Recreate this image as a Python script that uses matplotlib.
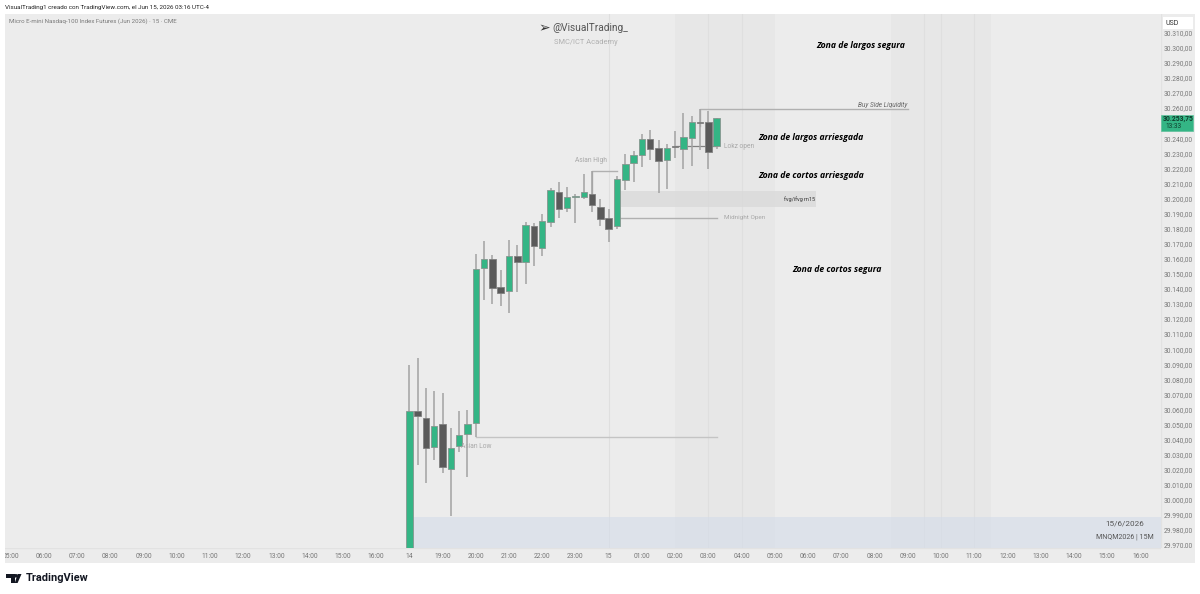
import matplotlib
matplotlib.use("Agg")
import matplotlib.pyplot as plt
from matplotlib.patches import Rectangle, Polygon, Ellipse

plt.rcParams['font.family'] = ['Roboto', 'DejaVu Sans']

# velas de 15 minutos, la primera es la de las 18:00 del dia 14
opens = [29960, 30059.4, 30054.8, 30035.5, 30050.8, 30021.3, 30036.2, 30044.6, 30051.9, 30154.7,
         30160.3, 30142.1, 30139.5, 30162.3, 30158.3, 30182.4, 30167.8, 30184.9, 30205, 30194.3,
         30201.5, 30201.8, 30203.4, 30195.2, 30187.7, 30182.6, 30213.1, 30224.2, 30229.7, 30240.1,
         30234.2, 30226, 30235.3, 30233.7, 30240.6, 30251.6, 30251.2, 30235.7]
highs = [30090, 30094.6, 30074.7, 30073.1, 30071.8, 30048.6, 30059.6, 30060.1, 30163.8, 30172.4,
         30163.4, 30153.2, 30173.1, 30169.8, 30185.2, 30184.2, 30190.4, 30207.6, 30211.4, 30208.3,
         30203.6, 30217.1, 30218.7, 30200.1, 30193.7, 30215.6, 30230.2, 30232.2, 30243.2, 30245.9,
         30239.5, 30236.8, 30245.6, 30257.2, 30255.6, 30259.8, 30258.5, 30254.3]
lows = [29950, 30023.8, 30011.7, 30027.1, 30018.7, 29990, 30032.2, 30016, 30042.6, 30133.3,
        30130.6, 30129.5, 30124.9, 30138.4, 30143.9, 30155.9, 30162.7, 30181.9, 30187.9, 30191.7,
        30184.6, 30200.5, 30191.7, 30182.4, 30171.8, 30180.6, 30206.3, 30211.4, 30221.7, 30226.2,
        30204.1, 30207, 30227.3, 30220, 30222.2, 30232.8, 30220, 30233.5]
closes = [30059.6, 30056, 30035.3, 30049.9, 30022.7, 30034.9, 30043.5, 30051, 30153.9, 30160.3,
          30141.5, 30138, 30162.3, 30158.3, 30183.1, 30169.1, 30185.7, 30206.1, 30193.9, 30201.6,
          30202.1, 30205.2, 30196.5, 30186.8, 30180.4, 30213.4, 30223.7, 30229.3, 30240.1, 30233.5,
          30225.3, 30234, 30234.6, 30241.3, 30251.2, 30250.5, 30231.5, 30253.75]

time_labels = ["05:00", "06:00", "07:00", "08:00", "09:00", "10:00", "11:00", "12:00", "13:00", "14:00",
               "15:00", "16:00", "14", "19:00", "20:00", "21:00", "22:00", "23:00", "15", "01:00",
               "02:00", "03:00", "04:00", "05:00", "06:00", "07:00", "08:00", "09:00", "10:00", "11:00",
               "12:00", "13:00", "14:00", "15:00", "16:00"]
price_ticks = list(range(29970, 30320, 10))
last_price = 30253.75

GREEN = "#34b585"
DARK = "#5a5a5a"
BG = "#ececec"
GRID = "#e2e2e2"
W, H = 1200, 594

fig = plt.figure(figsize=(W / 100, H / 100), dpi=100, facecolor="white")


def px_axes(x0, y0, x1, y1):
    # ejes colocados con pixeles de la imagen (y hacia abajo)
    return fig.add_axes([x0 / W, 1 - y1 / H, (x1 - x0) / W, (y1 - y0) / H])


def px_poly(points):
    return Polygon([[x / W, 1 - y / H] for x, y in points], closed=True, transform=fig.transFigure,
                   color="#131722", lw=0)


ax = px_axes(5, 14, 1160.7, 548)
ax_price = px_axes(1160.7, 14, 1195, 548)
ax_time = px_axes(5, 548, 1160.7, 562.7)
ax_corner = px_axes(1160.7, 548, 1195, 562.7)
for a in (ax, ax_price, ax_time, ax_corner):
    a.set_facecolor(BG)
    a.set_xticks([])
    a.set_yticks([])
    for s in a.spines.values():
        s.set_visible(False)

ax.set_xlim(-48.67, 90.45)
ax.set_ylim(29968.7, 30323.1)
ax_price.set_xlim(0, 1)
ax_price.set_ylim(ax.get_ylim())
ax_time.set_xlim(ax.get_xlim())
ax_time.set_ylim(0, 1)
ax_time.axhline(1, color=GRID, lw=1)
ax_price.axvline(0, color=GRID, lw=1)

# zonas de sesion
for a, b in [(32, 44), (58, 70)]:
    ax.axvspan(a, b, color="#e7e7e7", lw=0, zorder=0)
for v in [24, 36, 40, 62, 64, 68]:
    ax.axvline(v, color="#dfdfdf", lw=0.8, zorder=1)

# caja inferior y fvg (la caja azul es translucida)
ax.add_patch(Rectangle((0.45, 29968.7), 90, 20.8, facecolor="#d4dcea", alpha=0.6, lw=0, zorder=1))
ax.add_patch(Rectangle((25, 30195), 24, 10.6, facecolor="#d8d8d8", alpha=0.7, lw=0, zorder=1))

# niveles
ax.plot([35, 35, 60], [30249, 30259.8, 30259.8], color="#b0b0b0", lw=1, zorder=2)
ax.plot([22, 22, 25], [30196.5, 30218.7, 30218.7], color="#b0b0b0", lw=1, zorder=2)
ax.plot([25, 37], [30187.9, 30187.9], color="#b0b0b0", lw=1, zorder=2)
ax.plot([8, 37], [30042.6, 30042.6], color="#c4c4c4", lw=1, zorder=2)
ax.plot([32, 37], [30235.3, 30235.3], color="#808080", lw=0.9, zorder=2)

# velas
for i, (o, h, l, c) in enumerate(zip(opens, highs, lows, closes)):
    col = GREEN if c >= o else DARK
    ax.plot([i, i], [l, h], color="#a2a2a2", lw=1.1, zorder=3, solid_capstyle="butt")
    ax.add_patch(Rectangle((i - 0.39, min(o, c)), 0.78, max(abs(c - o), 0.6), facecolor=col,
                           edgecolor="#86968f" if c >= o else "#808080", lw=0.6, zorder=4))

# textos
for txt, x, y in [("Zona de largos segura", 861, 46), ("Zona de largos arriesgada", 811, 137),
                  ("Zona de cortos arriesgada", 811, 176), ("Zona de cortos segura", 837, 270)]:
    fig.text(x / W, 1 - y / H, txt, ha="center", va="center", fontsize=6.2, fontweight="bold",
             fontstyle="italic", family=["Open Sans", "DejaVu Sans"], color="black", zorder=10)
for txt, x, y, fs in [("Asian High", 591, 161, 4.8), ("Asian Low", 476, 446, 4.8),
                      ("Midnight Open", 745, 218, 4.6), ("Lokz open", 739, 146, 4.8)]:
    fig.text(x / W, 1 - y / H, txt, ha="center", va="center", fontsize=fs, color="#a8a8a8", zorder=10)
fig.text(882.5 / W, 1 - 104.5 / H, "Buy Side Liquidity", ha="center", va="center", fontsize=4.7,
         fontstyle="italic", color="#666666", zorder=10)
fig.text(800 / W, 1 - 199.5 / H, "fvg/ifvg m15", ha="center", va="center", fontsize=4.0,
         color="#333333", zorder=10)

fig.text(5 / W, 1 - 7 / H, "VisualTrading1 creado con TradingView.com, el Jun 15, 2026 03:16 UTC-4",
         ha="left", va="center", fontsize=4.5, color="#222222")
fig.text(9 / W, 1 - 21.5 / H, "Micro E-mini Nasdaq-100 Index Futures (Jun 2026) \u00b7 15 \u00b7 CME",
         ha="left", va="center", fontsize=4.45, color="#777777", zorder=10)
fig.text(552 / W, 1 - 28 / H, "@VisualTrading_", ha="left", va="center", fontsize=7.3,
         color="#555555", zorder=10)
fig.text(554 / W, 1 - 43 / H, "SMC/ICT Academy", ha="left", va="center", fontsize=5.4,
         color="#b0b0b0", zorder=10)
fig.text(544.5 / W, 1 - 28 / H, "\u27a2", ha="center", va="center", fontsize=10, color="#333333",
         family="DejaVu Sans", zorder=10)
fig.text(1125 / W, 1 - 524 / H, "15/6/2026", ha="center", va="center", fontsize=5.9,
         color="#555555", zorder=10)
fig.text(1124.6 / W, 1 - 536.5 / H, "MNQM2026 | 15M", ha="center", va="center", fontsize=5.1,
         color="#555555", zorder=10)

# eje de tiempo
for i, lab in enumerate(time_labels):
    ax_time.text(-48 + 4 * i, 0.45, lab, ha="center", va="center", fontsize=4.9, color="#777777",
                 clip_on=True)

# eje de precios
for p in price_ticks:
    if p == 30250:
        continue
    ax_price.text(0.51, p, f"{p:,}".replace(",", ".") + ",00", ha="center", va="center", fontsize=4.8,
                  color="#777777", clip_on=False)
ax_price.add_patch(Rectangle((0.07, 30313), 0.86, 8, facecolor="white", lw=0, zorder=5))
ax_price.text(0.15, 30317, "USD", ha="left", va="center", fontsize=5, color="#333333", zorder=6)
ax_price.add_patch(Rectangle((0, last_price - 8.15), 0.95, 10.4, facecolor=GREEN, edgecolor="#5fbf9a", lw=0.5,
                             zorder=5))
ax_price.text(0.5, last_price - 0.1, "30.253,75", ha="center", va="center", fontsize=4.9,
              fontweight="bold", color="#0f3d2c", zorder=6)
ax_price.text(0.15, last_price - 5.3, "13:33", ha="left", va="center", fontsize=4.7, color="#0f3d2c", zorder=6)

# logo
fig.add_artist(px_poly([(6, 574), (14.5, 574), (14.5, 583), (10.5, 583), (10.5, 578), (6, 578)]))
fig.add_artist(px_poly([(17.6, 574), (21.5, 574), (17.6, 583), (14.8, 583)]))
fig.add_artist(Ellipse((15.9 / W, 1 - 575.8 / H), 3.6 / W, 3.6 / H, transform=fig.transFigure,
                       color="#131722", lw=0))
fig.text(26 / W, 1 - 578 / H, "TradingView", ha="left", va="center", fontsize=7.9, fontweight="bold",
         color="#131722")

fig.savefig("out.png", dpi=100, facecolor="white")
